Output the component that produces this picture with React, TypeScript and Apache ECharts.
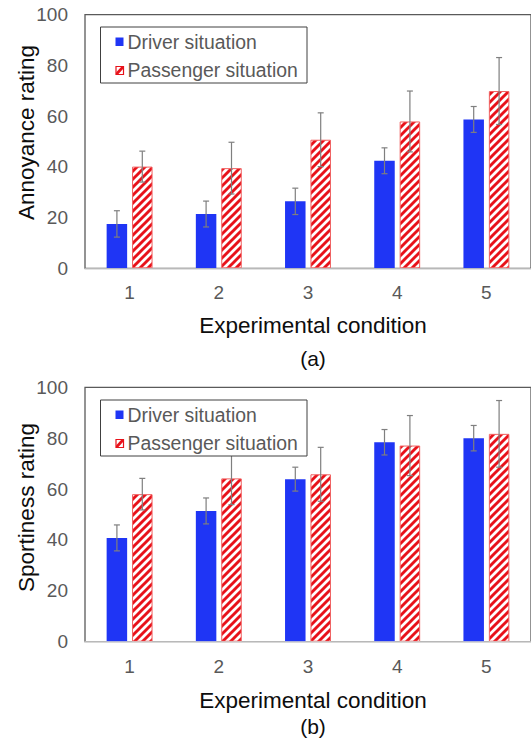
import React, { useEffect, useRef } from "react";
import * as echarts from "echarts";

const categories = ["1", "2", "3", "4", "5"];
const yTicks = [0, 20, 40, 60, 80, 100];

const annoyDriver = [17.5, 21.4, 26.4, 42.4, 58.7];
const annoyDriverErr = [5.2, 5.1, 5.2, 5.1, 5.1];
const annoyPassenger = [40.1, 39.5, 50.7, 57.9, 69.9];
const annoyPassengerErr = [6.1, 10.2, 10.6, 12.0, 13.2];

const sportDriver = [40.8, 51.4, 63.9, 78.4, 80.0];
const sportDriverErr = [5.1, 5.1, 4.7, 5.0, 5.0];
const sportPassenger = [58.0, 64.2, 65.8, 77.1, 81.7];
const sportPassengerErr = [6.2, 10.3, 10.6, 11.8, 13.1];

const seriesNames = ["Driver situation", "Passenger situation"];
const yTitles = ["Annoyance rating", "Sportiness rating"];
const xTitle = "Experimental condition";
const panelLabels = ["(a)", "(b)"];

const FONT = "'Liberation Sans', Arial, sans-serif";
const BLUE = "#1f35f5";
const RED = "#e8121a";
const RED_BORDER = "#f06060";
const TICK_COLOR = "#595959";
const BAR_W = 20.5;
const OFFSET = 12.7;

function makeHatch(): HTMLCanvasElement {
  const s = 8;
  const c = document.createElement("canvas");
  c.width = s;
  c.height = s;
  const ctx = c.getContext("2d")!;
  ctx.fillStyle = "#ffffff";
  ctx.fillRect(0, 0, s, s);
  ctx.strokeStyle = RED;
  ctx.lineWidth = 2.9;
  ctx.lineCap = "square";
  ctx.beginPath();
  ctx.moveTo(-1, s + 1);
  ctx.lineTo(s + 1, -1);
  ctx.moveTo(-3, 3);
  ctx.lineTo(3, -3);
  ctx.moveTo(s - 3, s + 3);
  ctx.lineTo(s + 3, s - 3);
  ctx.stroke();
  return c;
}

function errSeries(means: number[], errs: number[], idx: number, sign: number) {
  return {
    type: "custom",
    xAxisIndex: idx,
    yAxisIndex: idx,
    silent: true,
    z: 10,
    data: means.map((m, i) => [i, m, errs[i]]),
    renderItem: (_params: any, api: any) => {
      const i = api.value(0);
      const m = api.value(1);
      const e = api.value(2);
      const hi = api.coord([i, m + e]);
      const lo = api.coord([i, m - e]);
      const x = hi[0] + sign * OFFSET;
      const cap = 3;
      const st = { stroke: "#7f7f7f", lineWidth: 1.2 };
      return {
        type: "group",
        children: [
          { type: "line", shape: { x1: x, y1: hi[1], x2: x, y2: lo[1] }, style: st },
          { type: "line", shape: { x1: x - cap, y1: hi[1], x2: x + cap, y2: hi[1] }, style: st },
          { type: "line", shape: { x1: x - cap, y1: lo[1], x2: x + cap, y2: lo[1] }, style: st },
        ],
      };
    },
  };
}

function legendGraphics(oy: number, hatchFill: any) {
  return [
    {
      type: "rect",
      shape: { x: 100.5, y: 27 + oy, width: 206.5, height: 56 },
      style: { fill: "#fff", stroke: "#404040", lineWidth: 1 },
      z: 20,
    },
    {
      type: "rect",
      shape: { x: 115.5, y: 37.5 + oy, width: 8, height: 8.5 },
      style: { fill: BLUE },
      z: 21,
    },
    {
      type: "text",
      x: 127.5,
      y: 41.8 + oy,
      style: { text: seriesNames[0], font: `19.4px ${FONT}`, fill: TICK_COLOR, align: "left", verticalAlign: "middle" },
      z: 21,
    },
    {
      type: "rect",
      shape: { x: 116, y: 66.5 + oy, width: 7.5, height: 8 },
      style: { fill: "#fff", stroke: RED, lineWidth: 1.2 },
      z: 21,
    },
    {
      type: "polygon",
      shape: { points: [[116, 72.5 + oy], [121.5, 66.5 + oy], [123.5, 66.5 + oy], [123.5, 68.5 + oy], [118, 74.5 + oy], [116, 74.5 + oy]] },
      style: { fill: RED },
      z: 22,
    },
    {
      type: "text",
      x: 127.5,
      y: 70 + oy,
      style: { text: seriesNames[1], font: `19.4px ${FONT}`, fill: TICK_COLOR, align: "left", verticalAlign: "middle" },
      z: 21,
    },
  ];
}

export default function App() {
  const ref = useRef<HTMLDivElement>(null);

  useEffect(() => {
    if (!ref.current) return;
    const chart = echarts.init(ref.current, null, { renderer: "svg" });

    const hatchFill = { image: makeHatch(), repeat: "repeat" };

    const grids = [
      { left: 85, top: 14.7, width: 449, height: 253.6 },
      { left: 85, top: 387.3, width: 449, height: 254.4 },
    ].map((g) => ({ ...g, show: true, borderColor: "#5a5a5a", borderWidth: 1.3, backgroundColor: "transparent" }));

    const xAxes = [0, 1].map((i) => ({
      type: "category",
      gridIndex: i,
      data: categories,
      axisLine: { show: true, lineStyle: { color: "#d9d9d9", width: 1.5 } },
      axisTick: { show: false },
      axisLabel: { color: TICK_COLOR, fontSize: 19, fontFamily: FONT, margin: 15 },
      splitLine: { show: false },
      z: 5,
    }));

    const yAxes = [0, 1].map((i) => ({
      type: "value",
      gridIndex: i,
      min: yTicks[0],
      max: yTicks[yTicks.length - 1],
      interval: 20,
      axisLine: { show: false },
      axisTick: { show: false },
      splitLine: { show: false },
      axisLabel: { color: TICK_COLOR, fontSize: 19, fontFamily: FONT, margin: 17 },
    }));

    const hatch = {
      color: hatchFill,
      borderColor: RED_BORDER,
      borderWidth: 1,
    };

    const barSeries = (data: number[], idx: number, name: string, style: any) => ({
      type: "bar",
      name,
      xAxisIndex: idx,
      yAxisIndex: idx,
      data,
      barWidth: BAR_W,
      barGap: "24%",
      itemStyle: style,
      silent: true,
    });

    const textStyle = (text: string, size: number) => ({
      text,
      font: `${size}px ${FONT}`,
      fill: "#0d0d0d",
      align: "center",
      verticalAlign: "middle",
    });

    const titleGraphics = [
      { type: "text", x: 26, y: 132.5, rotation: Math.PI / 2, style: textStyle(yTitles[0], 22.5) },
      { type: "text", x: 26, y: 507.5, rotation: Math.PI / 2, style: textStyle(yTitles[1], 22.5) },
      { type: "text", x: 313, y: 325, style: textStyle(xTitle, 22.5) },
      { type: "text", x: 313, y: 700.5, style: textStyle(xTitle, 22.5) },
      { type: "text", x: 313, y: 358, style: textStyle(panelLabels[0], 21) },
      { type: "text", x: 313, y: 726, style: textStyle(panelLabels[1], 21) },
    ];

    chart.setOption({
      animation: false,
      backgroundColor: "#ffffff",
      grid: grids,
      xAxis: xAxes,
      yAxis: yAxes,
      series: [
        barSeries(annoyDriver, 0, seriesNames[0], { color: BLUE }),
        barSeries(annoyPassenger, 0, seriesNames[1], hatch),
        barSeries(sportDriver, 1, seriesNames[0], { color: BLUE }),
        barSeries(sportPassenger, 1, seriesNames[1], hatch),
        errSeries(annoyDriver, annoyDriverErr, 0, -1),
        errSeries(annoyPassenger, annoyPassengerErr, 0, 1),
        errSeries(sportDriver, sportDriverErr, 1, -1),
        errSeries(sportPassenger, sportPassengerErr, 1, 1),
      ],
      graphic: [...titleGraphics, ...legendGraphics(0, hatchFill), ...legendGraphics(373, hatchFill)],
    });

    return () => chart.dispose();
  }, []);

  return (
    <div
      ref={ref}
      style={{ position: "absolute", left: 0, top: 0, width: 531, height: 746, background: "#fff" }}
    />
  );
}
